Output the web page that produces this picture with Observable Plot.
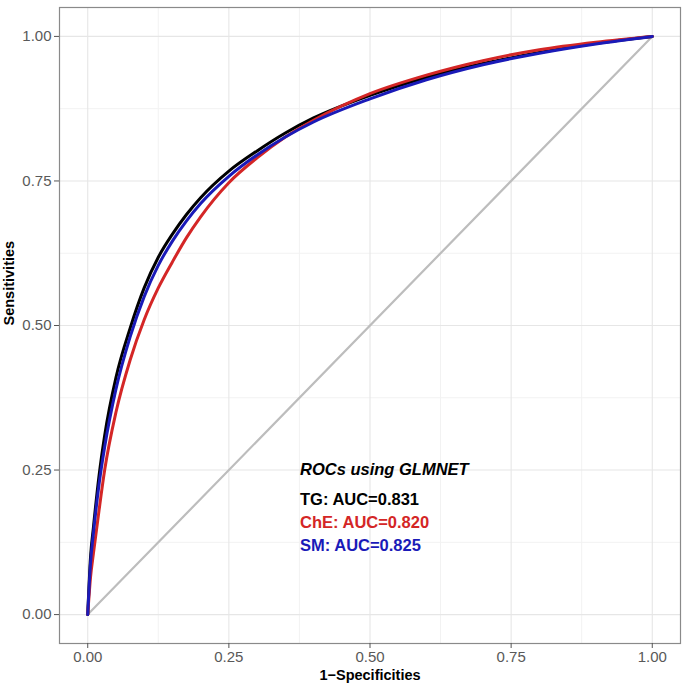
<!DOCTYPE html>
<html>
<head>
<meta charset="utf-8">
<script src="https://cdn.jsdelivr.net/npm/d3@7"></script>
<script src="https://cdn.jsdelivr.net/npm/@observablehq/plot@0.6"></script>
<style>
  html, body { margin: 0; padding: 0; background: #fff; }
</style>
</head>
<body>
<div id="chart"></div>
<script>
// ---- data ----
const fpr = [0, 0.005, 0.01, 0.02, 0.03, 0.05, 0.075, 0.1, 0.125, 0.15, 0.175, 0.2, 0.25, 0.3, 0.35, 0.4, 0.5, 0.6, 0.7, 0.8, 0.9, 1.0];
const tprTG  = [0, 0.10, 0.15, 0.24, 0.31, 0.41, 0.495, 0.565, 0.618, 0.658, 0.692, 0.721, 0.767, 0.802, 0.833, 0.859, 0.898, 0.929, 0.953, 0.972, 0.988, 1];
const tprChE = [0, 0.065, 0.105, 0.18, 0.25, 0.35, 0.44, 0.51, 0.565, 0.61, 0.652, 0.688, 0.747, 0.79, 0.826, 0.855, 0.901, 0.933, 0.958, 0.977, 0.99, 1];
const tprSM  = [0, 0.09, 0.14, 0.225, 0.29, 0.39, 0.48, 0.55, 0.604, 0.646, 0.681, 0.711, 0.758, 0.795, 0.826, 0.852, 0.892, 0.925, 0.951, 0.971, 0.987, 1];
const seriesNames = ["TG", "ChE", "SM"];
const seriesAUC = ["0.831", "0.820", "0.825"];
const seriesColors = ["#000000", "#d42626", "#1a1ab8"];
const diagX = [0, 1];
const diagY = [0, 1];
const majorTicks = [0, 0.25, 0.5, 0.75, 1];
const minorTicks = [0.125, 0.375, 0.625, 0.875];
const xTitle = "1\u2212Specificities";
const yTitle = "Sensitivities";
const annoTitle = "ROCs using GLMNET";

// ---- build tables ----
const tprs = [tprTG, tprChE, tprSM];
const rocs = seriesNames.map((name, s) => fpr.map((f, i) => ({series: name, fpr: f, tpr: tprs[s][i]})));
const diag = diagX.map((x, i) => ({x, y: diagY[i]}));

const FONT = "'Liberation Sans', Arial, Helvetica, sans-serif";
const annoX = 0.376;
const annoYs = [0.198, 0.159, 0.119];

const marks = [
  Plot.ruleX(minorTicks, {stroke: "#f2f2f2", strokeWidth: 1}),
  Plot.ruleY(minorTicks, {stroke: "#f2f2f2", strokeWidth: 1}),
  Plot.ruleX(majorTicks, {stroke: "#e6e6e6", strokeWidth: 1.1}),
  Plot.ruleY(majorTicks, {stroke: "#e6e6e6", strokeWidth: 1.1}),
  Plot.line(diag, {x: "x", y: "y", stroke: "#bdbdbd", strokeWidth: 2.2}),
];
// draw order: TG, ChE, SM
[0, 1, 2].forEach(s => {
  marks.push(Plot.line(rocs[s], {x: "fpr", y: "tpr", stroke: seriesColors[s], strokeWidth: 3, curve: "monotone-x"}));
});
marks.push(
  Plot.frame({stroke: "#8a8a8a", strokeWidth: 1.2}),
  Plot.axisX({ticks: majorTicks, tickFormat: d3.format(".2f"), fontSize: 15, tickSize: 5, tickPadding: 3, stroke: "#555", fill: "#595959", label: null}),
  Plot.axisY({ticks: majorTicks, tickFormat: d3.format(".2f"), fontSize: 15, tickSize: 5, tickPadding: 3, stroke: "#555", fill: "#595959", label: null}),
  Plot.text([xTitle], {frameAnchor: "bottom", dy: 36, fontSize: 14.5, fontWeight: "bold", fill: "#000"}),
  Plot.text([yTitle], {frameAnchor: "left", dx: -50, rotate: -90, fontSize: 14.5, fontWeight: "bold", fill: "#000"}),
  Plot.text([annoTitle], {x: annoX, y: 0.25, textAnchor: "start", fontSize: 16.5, fontWeight: "bold", fontStyle: "italic", fill: "#000"})
);
seriesNames.forEach((name, s) => {
  marks.push(Plot.text([`${name}: AUC=${seriesAUC[s]}`], {x: annoX, y: annoYs[s], textAnchor: "start", fontSize: 16.5, fontWeight: "bold", fill: seriesColors[s]}));
});

const chart = Plot.plot({
  width: 685,
  height: 687,
  marginLeft: 59,
  marginRight: 5,
  marginTop: 7,
  marginBottom: 44,
  style: {fontFamily: FONT, background: "#fff", overflow: "visible"},
  x: {domain: [-0.05, 1.05], axis: null},
  y: {domain: [-0.05, 1.05], axis: null},
  marks
});
document.getElementById("chart").appendChild(chart);
</script>
</body>
</html>
